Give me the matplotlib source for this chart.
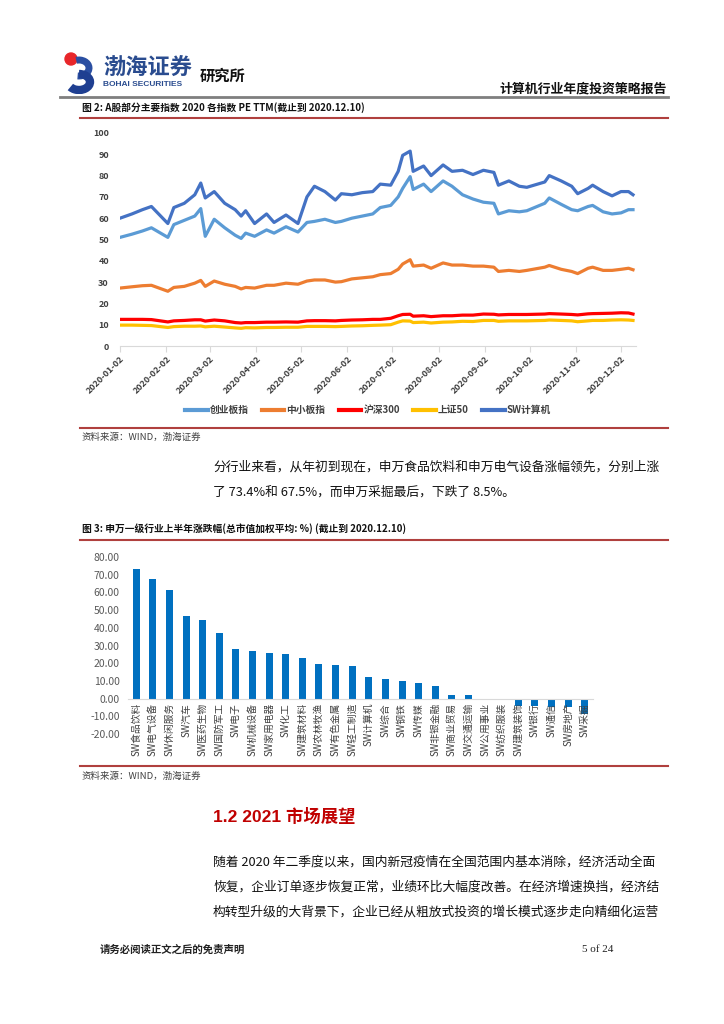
import matplotlib
matplotlib.use("Agg")
import matplotlib.pyplot as plt
import matplotlib.dates as mdates
from matplotlib.lines import Line2D
from matplotlib.patches import Circle, Arc
import pandas as pd

plt.rcParams['font.family'] = ['Noto Sans CJK SC', 'DejaVu Sans']

# ---- 图2 数据: PE TTM ----
dates = ['2020-01-02', '2020-01-10', '2020-01-17', '2020-01-23', '2020-02-03', '2020-02-07',
         '2020-02-14', '2020-02-21', '2020-02-25', '2020-02-28', '2020-03-05', '2020-03-12',
         '2020-03-19', '2020-03-23', '2020-03-26', '2020-04-01', '2020-04-09', '2020-04-14',
         '2020-04-22', '2020-04-30', '2020-05-06', '2020-05-11', '2020-05-18', '2020-05-25',
         '2020-05-29', '2020-06-05', '2020-06-12', '2020-06-19', '2020-06-24', '2020-07-01',
         '2020-07-06', '2020-07-09', '2020-07-14', '2020-07-16', '2020-07-23', '2020-07-28',
         '2020-08-05', '2020-08-11', '2020-08-18', '2020-08-25', '2020-09-01', '2020-09-08',
         '2020-09-11', '2020-09-18', '2020-09-25', '2020-09-30', '2020-10-12', '2020-10-15',
         '2020-10-23', '2020-10-30', '2020-11-03', '2020-11-10', '2020-11-13', '2020-11-20',
         '2020-11-26', '2020-12-02', '2020-12-07', '2020-12-10']

cyb = [51, 52.5, 54, 55.5, 51, 57, 59, 61, 64.5, 51.5, 59.5, 55.5, 52, 50.5, 53, 51.5, 54.5, 53,
       56, 53.5, 58, 58.5, 59.5, 58, 58.5, 60, 61, 62, 65, 66, 70, 74, 79.5, 73.5, 76, 72.5,
       77.5, 75, 71, 69, 67.5, 67, 62, 63.5, 63, 63.5, 67, 69.5, 66.5, 64, 63.5, 65.5, 66, 63,
       62, 62.5, 64, 64]
zxb = [27.2, 27.8, 28.3, 28.5, 25.7, 27.5, 28, 29.5, 30.8, 28, 30.5, 29, 28, 26.8, 27.5, 27.2,
       28.5, 28.5, 29.5, 29, 30.5, 31, 31, 30, 30.2, 31.5, 32, 32.5, 33.5, 34, 36, 38.5, 40.5,
       37.5, 38, 36.5, 39, 38, 38, 37.5, 37.5, 37, 35, 35.5, 35, 35.5, 37, 37.8, 36, 35, 34,
       36.5, 37, 35.5, 35.5, 36, 36.5, 35.8]
hs300 = [12.5, 12.5, 12.5, 12.4, 11.3, 11.8, 12, 12.3, 12.3, 11.7, 12.2, 11.8, 11.0, 10.8, 11,
         11, 11.2, 11.2, 11.3, 11.2, 11.8, 11.9, 11.9, 11.8, 12, 12.2, 12.3, 12.5, 12.5, 13,
         14.2, 14.8, 14.9, 14, 14.2, 13.8, 14.2, 14.2, 14.5, 14.5, 15, 14.9, 14.6, 14.8, 14.8,
         14.8, 15, 15.2, 15, 14.8, 14.6, 15.1, 15.2, 15.3, 15.4, 15.6, 15.5, 15]
sz50 = [9.8, 9.8, 9.7, 9.6, 8.7, 9.1, 9.3, 9.3, 9.4, 9, 9.3, 8.9, 8.5, 8.3, 8.6, 8.5, 8.7, 8.7,
        8.8, 8.8, 9.2, 9.2, 9.2, 9.1, 9.2, 9.4, 9.5, 9.7, 9.8, 10.0, 11.2, 11.8, 11.7, 11, 11.2,
        10.8, 11.2, 11.3, 11.6, 11.5, 12, 12, 11.6, 11.8, 11.8, 11.8, 12, 12.2, 12, 11.8, 11.4,
        11.8, 12, 12, 12.2, 12.3, 12.2, 12]
swjsj = [60, 62, 64, 65.5, 57.5, 65, 67, 71, 76.5, 69.5, 72.5, 67, 64, 61, 63.5, 57.5, 62, 58,
         61.5, 57.5, 70, 75, 72.5, 68.5, 71.5, 71, 72, 72.5, 76, 75.5, 82, 89.5, 91.5, 82, 84.5,
         80, 85, 82, 82.5, 80.5, 82.5, 81.5, 75.5, 77.5, 75, 74.5, 77, 80, 77.5, 75, 71.5, 74,
         75.5, 72.5, 70.5, 72.5, 72.5, 71]

series_names = ['创业板指', '中小板指', '沪深300', '上证50', 'SW计算机']
series_colors = ['#5B9BD5', '#ED7D31', '#FF0000', '#FFC000', '#4472C4']
tick_dates = ['2020-01-02', '2020-02-02', '2020-03-02', '2020-04-02', '2020-05-02', '2020-06-02',
              '2020-07-02', '2020-08-02', '2020-09-02', '2020-10-02', '2020-11-02', '2020-12-02']

# ---- 图3 数据: 申万一级行业涨跌幅 ----
industries = ['SW食品饮料', 'SW电气设备', 'SW休闲服务', 'SW汽车', 'SW医药生物', 'SW国防军工',
              'SW电子', 'SW机械设备', 'SW家用电器', 'SW化工', 'SW建筑材料', 'SW农林牧渔',
              'SW有色金属', 'SW轻工制造', 'SW计算机', 'SW综合', 'SW钢铁', 'SW传媒', 'SW非银金融',
              'SW商业贸易', 'SW交通运输', 'SW公用事业', 'SW纺织服装', 'SW建筑装饰', 'SW银行',
              'SW通信', 'SW房地产', 'SW采掘']
changes = [73.4, 67.5, 61.5, 46.5, 44.5, 36.8, 28.0, 27.0, 25.5, 25.0, 22.8, 19.4, 19.0, 18.2,
           12.0, 11.0, 10.0, 8.8, 7.3, 2.0, 1.8, -0.4, -0.4, -4.0, -4.3, -4.5, -5.0, -8.5]

W, H = 724, 1024
fig = plt.figure(figsize=(W / 100, H / 100), dpi=100)


def fx(x):
    return x / W


def fy(y):
    return 1 - y / H


def hline(y, x0, x1, color, lw):
    fig.add_artist(Line2D([fx(x0), fx(x1)], [fy(y), fy(y)], color=color, lw=lw))


def text(x, y, s, **kw):
    kw.setdefault('va', 'center')
    fig.text(fx(x), fy(y), s, **kw)


# ---- 页眉 ----
logo = fig.add_axes([fx(62), fy(94), fx(40), 44 / H])
logo.set_xlim(0, 40)
logo.set_ylim(0, 44)
logo.set_aspect('equal')
logo.axis('off')
logo.add_patch(Circle((9, 35), 6, color='#E8262A'))
logo.add_patch(Arc((17, 26), 20, 16, theta1=-100, theta2=110, lw=5, color='#2B4FA2'))
logo.add_patch(Arc((17, 12), 22, 16, theta1=-150, theta2=90, lw=6, color='#1F3F91'))

text(103, 68, '渤海证券', fontsize=16, color='#2A4C8F', fontweight='bold')
text(103, 85, 'BOHAI SECURITIES', fontsize=6, color='#2A4C8F', fontweight='bold',
     family=['Liberation Sans', 'DejaVu Sans'])
text(200, 76, '研究所', fontsize=11, color='#111111', fontweight='bold')
text(667, 89, '计算机行业年度投资策略报告', fontsize=9.3, fontweight='bold', ha='right', color='#111111')
hline(97, 60, 668, '#7F7F7F', 2)

# ---- 图2 ----
text(82, 108, '图 2: A股部分主要指数 2020 各指数 PE TTM(截止到 2020.12.10)', fontsize=7,
     fontweight='bold', color='#111111')
hline(118, 80, 668, '#B0403E', 1.5)

ax1 = fig.add_axes([fx(120), fy(346), (636 - 120) / W, (346 - 133) / H])
x_dates = pd.to_datetime(dates)
for vals, name, col in zip([cyb, zxb, hs300, sz50, swjsj], series_names, series_colors):
    ax1.plot(x_dates, vals, color=col, lw=2.3, label=name)

ax1.set_ylim(0, 100)
ax1.set_yticks(range(0, 101, 10))
ax1.set_xlim(pd.Timestamp('2020-01-02'), pd.Timestamp('2020-12-12'))
ax1.set_xticks(pd.to_datetime(tick_dates))
ax1.xaxis.set_major_formatter(mdates.DateFormatter('%Y-%m-%d'))
for s in ['top', 'right', 'left']:
    ax1.spines[s].set_visible(False)
ax1.spines['bottom'].set_color('#D9D9D9')
ax1.tick_params(axis='y', length=0, pad=8, labelsize=6.5, labelcolor='#404040')
ax1.tick_params(axis='x', length=4, color='#D9D9D9', pad=2, labelsize=6.5, labelcolor='#404040')
for lab in ax1.get_yticklabels():
    lab.set_fontweight('bold')
for lab in ax1.get_xticklabels():
    lab.set_rotation(45)
    lab.set_ha('right')
    lab.set_rotation_mode('anchor')
    lab.set_fontweight('bold')

handles = [Line2D([], [], color=c, lw=3) for c in series_colors]
leg = fig.legend(handles, series_names, loc='center', bbox_to_anchor=(fx(368), fy(410)),
                 ncol=5, frameon=False, fontsize=7, handlelength=2.3, handletextpad=0.2,
                 columnspacing=1.4)
for t in leg.get_texts():
    t.set_fontweight('bold')
    t.set_color('#404040')

hline(428, 80, 668, '#B0403E', 1.5)
text(82, 437, '资料来源：WIND，渤海证券', fontsize=6.8, color='#404040', style='italic')

# ---- 正文 ----
text(213, 467, '分行业来看，从年初到现在，申万食品饮料和申万电气设备涨幅领先，分别上涨',
     fontsize=9.2, color='#111111')
text(213, 492, '了 73.4%和 67.5%，而申万采掘最后，下跌了 8.5%。', fontsize=9.2, color='#111111')

# ---- 图3 ----
text(82, 529, '图 3: 申万一级行业上半年涨跌幅(总市值加权平均: %) (截止到 2020.12.10)',
     fontsize=7, fontweight='bold', color='#111111')
hline(540, 80, 668, '#B0403E', 1.5)

ax2 = fig.add_axes([fx(128), fy(734), (593 - 128) / W, (734 - 557) / H])
ax2.spines['bottom'].set_position(('data', 0))
ax2.bar(range(len(industries)), changes, width=0.42, color='#0070C0')
ax2.set_ylim(-20, 80)
ax2.set_yticks(range(-20, 81, 10))
ax2.set_yticklabels(['%.2f' % v for v in range(-20, 81, 10)])
ax2.set_xlim(-0.5, len(industries) - 0.5)
ax2.set_xticks(range(len(industries)))
ax2.set_xticklabels(industries)
for s in ['top', 'right', 'left']:
    ax2.spines[s].set_visible(False)
ax2.spines['bottom'].set_color('#D9D9D9')
ax2.tick_params(axis='y', length=0, pad=6, labelsize=7.5, labelcolor='#595959')
ax2.tick_params(axis='x', length=0, pad=3, labelsize=7, labelcolor='#404040', labelrotation=90)

hline(766, 80, 668, '#B0403E', 1.5)
text(82, 776, '资料来源：WIND，渤海证券', fontsize=6.8, color='#404040', style='italic')

# ---- 1.2 ----
text(213, 816, '1.2 2021 市场展望', fontsize=12.5, fontweight='bold', color='#C00000',
     family=['Liberation Sans', 'Noto Sans CJK SC'])
para = ['随着 2020 年二季度以来，国内新冠疫情在全国范围内基本消除，经济活动全面',
        '恢复，企业订单逐步恢复正常，业绩环比大幅度改善。在经济增速换挡，经济结',
        '构转型升级的大背景下，企业已经从粗放式投资的增长模式逐步走向精细化运营']
for i, line in enumerate(para):
    text(213, 862 + 25 * i, line, fontsize=9.2, color='#111111')

# ---- 页脚 ----
text(100, 950, '请务必阅读正文之后的免责声明', fontsize=7.5, fontweight='bold', color='#222222')
text(582, 950, '5 of 24', fontsize=8, color='#222222', family=['Liberation Serif', 'DejaVu Serif'])

fig.savefig('out.png', dpi=100)
